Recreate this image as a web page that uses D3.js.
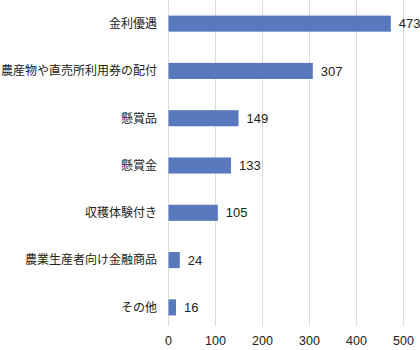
<!DOCTYPE html>
<html>
<head>
<meta charset="utf-8">
<script src="https://cdn.jsdelivr.net/npm/d3@7"></script>
<style>
  body { margin: 0; background: #fff; }
  svg text { font-family: "Noto Sans CJK JP", "Liberation Sans", sans-serif; }
</style>
</head>
<body>
<div class="chart"></div>
<script>
// chart data
const categories = ["金利優遇", "農産物や直売所利用券の配付", "懸賞品", "懸賞金", "収穫体験付き", "農業生産者向け金融商品", "その他"];
const values = [473, 307, 149, 133, 105, 24, 16];
const ticks = [0, 100, 200, 300, 400, 500];

const WIDTH = 420;
const HEIGHT = 350;
const LEFT = 168.5;
const RIGHT = 403.5;

const svg = d3.select(".chart")
  .append("svg")
  .attr("width", WIDTH)
  .attr("height", HEIGHT);

const x = d3.scaleLinear().domain([0, 500]).range([LEFT, RIGHT]);
const y = d3.scaleBand()
  .domain(categories)
  .range([0, 331])
  .paddingInner(0.66)
  .paddingOuter(0.33);

// vertical gridlines
svg.append("g")
  .selectAll("line")
  .data(ticks)
  .enter()
  .append("line")
  .attr("x1", d => x(d))
  .attr("x2", d => x(d))
  .attr("y1", 0)
  .attr("y2", 326)
  .attr("stroke", "#dcdcdc")
  .attr("stroke-width", 1);

// x tick labels
svg.append("g")
  .selectAll("text")
  .data(ticks)
  .enter()
  .append("text")
  .attr("x", d => x(d))
  .attr("y", 345)
  .attr("text-anchor", "middle")
  .style("font-family", "'Liberation Sans', Arial, sans-serif")
  .style("font-size", "12.5px")
  .attr("fill", "#222")
  .text(d => d);

// bars
svg.append("g")
  .selectAll("rect")
  .data(values)
  .enter()
  .append("rect")
  .attr("x", x(0))
  .attr("y", (d, i) => y(categories[i]))
  .attr("width", d => x(d) - x(0))
  .attr("height", y.bandwidth())
  .attr("fill", "#5879bd");

// value labels
svg.append("g")
  .selectAll("text")
  .data(values)
  .enter()
  .append("text")
  .attr("x", d => x(d) + 8)
  .attr("y", (d, i) => y(categories[i]) + y.bandwidth() / 2)
  .attr("dy", "0.36em")
  .style("font-family", "'Liberation Sans', Arial, sans-serif")
  .style("font-size", "13px")
  .attr("fill", "#222")
  .text(d => d);

// category labels
svg.append("g")
  .selectAll("text")
  .data(categories)
  .enter()
  .append("text")
  .attr("x", 157)
  .attr("y", d => y(d) + y.bandwidth() / 2)
  .attr("dy", "0.36em")
  .attr("text-anchor", "end")
  .style("font-size", "12px")
  .attr("fill", "#222")
  .text(d => d);
</script>
</body>
</html>
